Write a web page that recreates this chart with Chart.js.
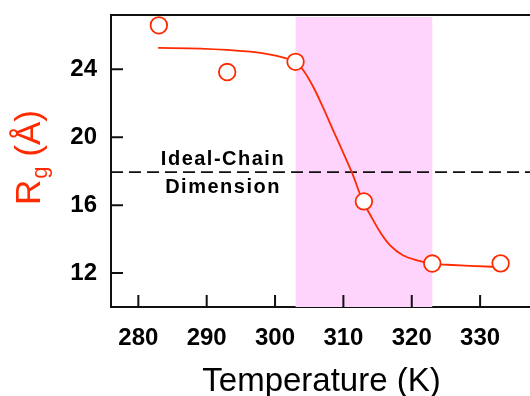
<!DOCTYPE html>
<html>
<head>
<meta charset="utf-8">
<script src="https://cdn.jsdelivr.net/npm/chart.js@4"></script>
<style>
  body { margin: 0; background: #fff; overflow: hidden; }
  canvas { display: block; }
</style>
</head>
<body>
<canvas id="rgChart" width="530" height="396"></canvas>
<script>
// measured points
const tempPoints = [283, 293, 303, 313, 323, 333];
const rgPoints = [26.59, 23.84, 24.44, 16.22, 12.56, 12.57];

// fitted curve
const fitTemp = [282.9, 289.1, 296.4, 299.7, 302.8, 304.1, 305.6, 307.0, 308.5, 310.0, 311.3, 312.8, 313.9, 315.4, 316.8, 318.7, 320.8, 323.0, 325.2, 331.8, 332.9];
const fitRg = [25.26, 25.22, 25.04, 24.84, 24.46, 23.96, 22.96, 21.77, 20.41, 19.06, 17.87, 16.27, 15.45, 14.40, 13.65, 13.05, 12.75, 12.55, 12.49, 12.37, 12.37];

const xTicks = [280, 290, 300, 310, 320, 330];
const yTicks = [12, 16, 20, 24];
const transitionRange = [303, 323];
const idealChainRg = 17.95;

const RED = "#ff2a00";
const FONT = "'Liberation Sans', Arial, sans-serif";

const noPad = s => {
    s.paddingTop = 0;
    s.paddingBottom = 0;
    s.paddingLeft = 0;
    s.paddingRight = 0;
};

const decorPlugin = {
    id: "decor",
    beforeDatasetsDraw(chart) {
        const ctx = chart.ctx;
        const area = chart.chartArea;
        const x = chart.scales.x;
        const y = chart.scales.y;

        // pink transition band
        const x0 = x.getPixelForValue(transitionRange[0]);
        const x1 = x.getPixelForValue(transitionRange[1]);
        ctx.save();
        ctx.fillStyle = "rgb(255,212,252)";
        ctx.fillRect(x0, area.top + 2, x1 - x0, area.bottom - area.top - 2);

        // ideal chain dashed line
        const yd = y.getPixelForValue(idealChainRg);
        ctx.strokeStyle = "#111";
        ctx.lineWidth = 1.7;
        ctx.setLineDash([12, 6]);
        ctx.beginPath();
        ctx.moveTo(area.left, yd);
        ctx.lineTo(area.right, yd);
        ctx.stroke();
        ctx.setLineDash([]);

        ctx.fillStyle = "#000";
        ctx.font = "bold 20px " + FONT;
        ctx.letterSpacing = "1.5px";
        ctx.textAlign = "center";
        ctx.textBaseline = "alphabetic";
        ctx.fillText("Ideal-Chain", 223, yd - 7);
        ctx.fillText("Dimension", 223, yd + 21);
        ctx.restore();
    },
    afterDraw(chart) {
        const ctx = chart.ctx;
        const area = chart.chartArea;
        const x = chart.scales.x;
        const y = chart.scales.y;
        ctx.save();
        ctx.strokeStyle = "#111";
        ctx.lineWidth = 2;

        // top frame line
        ctx.beginPath();
        ctx.moveTo(area.left - 1, area.top);
        ctx.lineTo(chart.width, area.top);
        ctx.stroke();

        // inward ticks
        ctx.beginPath();
        xTicks.forEach(v => {
            const px = x.getPixelForValue(v);
            ctx.moveTo(px, area.bottom);
            ctx.lineTo(px, area.bottom - 12);
        });
        yTicks.forEach(v => {
            const py = y.getPixelForValue(v);
            ctx.moveTo(area.left, py);
            ctx.lineTo(area.left + 12, py);
        });
        ctx.stroke();

        // x title
        ctx.fillStyle = "#000";
        ctx.font = "33px " + FONT;
        ctx.textAlign = "center";
        ctx.textBaseline = "alphabetic";
        ctx.fillText("Temperature (K)", (area.left + area.right) / 2 + 1, 391);

        // y title with subscript
        ctx.translate(40, 205);
        ctx.rotate(-Math.PI / 2);
        ctx.fillStyle = RED;
        ctx.textAlign = "left";
        ctx.font = "35px " + FONT;
        ctx.fillText("R", 0, 0);
        let w = ctx.measureText("R").width;
        ctx.font = "22px " + FONT;
        ctx.fillText("g", w + 1, 7);
        w += ctx.measureText("g").width + 1;
        ctx.font = "35px " + FONT;
        ctx.fillText(" (\u00C5)", w, 0);
        ctx.restore();
    }
};

const ctx = document.getElementById("rgChart").getContext("2d");

new Chart(ctx, {
    type: "scatter",
    data: {
        datasets: [
            {
                label: "fit",
                data: fitTemp.map((t, i) => ({ x: t, y: fitRg[i] })),
                showLine: true,
                borderColor: RED,
                borderWidth: 1.8,
                pointRadius: 0,
                tension: 0.35,
                order: 2
            },
            {
                label: "Rg",
                data: tempPoints.map((t, i) => ({ x: t, y: rgPoints[i] })),
                showLine: false,
                pointRadius: 8.3,
                pointBackgroundColor: "#fff",
                pointBorderColor: RED,
                pointBorderWidth: 1.8,
                order: 1
            }
        ]
    },
    options: {
        responsive: false,
        animation: false,
        layout: { autoPadding: false, padding: { top: 15, right: 0, left: 0, bottom: 0 } },
        plugins: {
            legend: { display: false },
            tooltip: { enabled: false }
        },
        scales: {
            x: {
                type: "linear",
                min: 276,
                max: 337.3,
                afterFit: s => { s.height = 89; noPad(s); },
                afterBuildTicks: s => { s.ticks = xTicks.map(v => ({ value: v })); },
                grid: { display: false, drawTicks: false },
                border: { display: true, color: "#111", width: 2 },
                ticks: {
                    padding: 17,
                    color: "#000",
                    font: { family: FONT, size: 24, weight: "bold" },
                    maxRotation: 0
                }
            },
            y: {
                type: "linear",
                min: 10,
                max: 27.2,
                afterFit: s => { s.width = 111; noPad(s); },
                afterBuildTicks: s => { s.ticks = yTicks.map(v => ({ value: v })); },
                grid: { display: false, drawTicks: false },
                border: { display: true, color: "#111", width: 2 },
                ticks: {
                    padding: 14,
                    color: "#000",
                    font: { family: FONT, size: 24, weight: "bold" }
                }
            }
        }
    },
    plugins: [decorPlugin]
});
</script>
</body>
</html>
